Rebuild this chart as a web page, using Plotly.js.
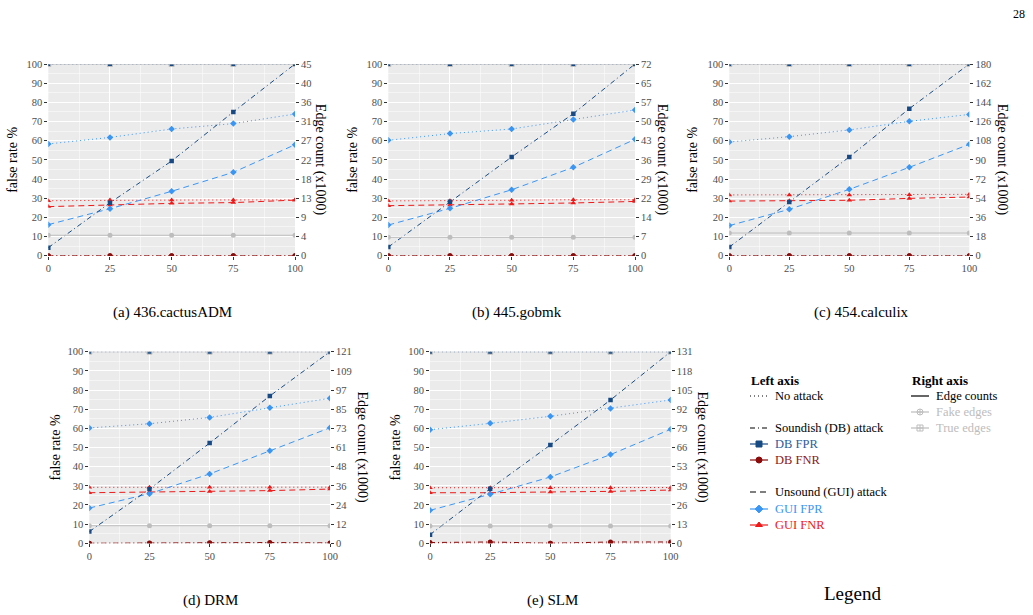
<!DOCTYPE html>
<html>
<head>
<meta charset="utf-8">
<script src="https://cdn.plot.ly/plotly-3.0.1.min.js"></script>
<style>
  html, body { margin: 0; padding: 0; background: #fff; }
  #chart { width: 1033px; height: 615px; }
</style>
</head>
<body>
<div id="chart"></div>
<script>
// Attack strength (% of edges tampered) on the x axis
const attackLevels = [0, 25, 50, 75, 100];

// One entry per benchmark panel
const captions = ['(a) 436.cactusADM', '(b) 445.gobmk', '(c) 454.calculix', '(d) DRM', '(e) SLM'];

// Right axis: maximum edge count (x1000) and its printed tick labels
const edgeAxisMax = [45, 72, 180, 121, 131];
const edgeTickLabels = [
  ['0', '4', '9', '13', '18', '22', '27', '31', '36', '40', '45'],
  ['0', '7', '14', '22', '29', '36', '43', '50', '57', '65', '72'],
  ['0', '18', '36', '54', '72', '90', '108', '126', '144', '162', '180'],
  ['0', '12', '24', '36', '48', '61', '73', '85', '97', '109', '121'],
  ['0', '13', '26', '39', '53', '66', '79', '92', '105', '118', '131']
];

// Left axis, no attack (false rate %)
const noAttackDbFpr = [
  [100, 100, 100, 100, 100], [100, 100, 100, 100, 100], [100, 100, 100, 100, 100],
  [100, 100, 100, 100, 100], [100, 100, 100, 100, 100]
];
const noAttackDbFnr = [
  [0, 0, 0, 0, 0], [0, 0, 0, 0, 0], [0, 0, 0, 0, 0], [0, 0, 0, 0, 0], [0, 0, 0, 0, 0]
];
const noAttackGuiFpr = [
  [58.3, 61.7, 66.1, 68.9, 73.9],
  [60.2, 63.7, 66.1, 71.0, 76.0],
  [59.3, 62.1, 65.6, 70.1, 73.7],
  [60.2, 62.4, 65.7, 70.8, 75.7],
  [59.3, 62.6, 66.3, 70.4, 74.8]
];
const noAttackGuiFnr = [
  [28.7, 29.0, 29.0, 29.1, 29.1],
  [28.6, 28.6, 28.9, 29.2, 29.2],
  [31.7, 31.7, 31.7, 31.8, 32.0],
  [29.2, 29.2, 29.2, 29.2, 29.3],
  [29.0, 29.0, 29.0, 29.0, 29.1]
];

// Left axis, Soundish (DB) attack
const dbAttackFpr = [
  [4.2, 27.6, 49.4, 75.0, 100],
  [4.5, 28.2, 51.5, 74.1, 100],
  [4.5, 28.0, 51.5, 76.7, 100],
  [6.1, 28.3, 52.3, 76.9, 100],
  [4.5, 28.5, 51.3, 74.8, 100]
];
const dbAttackFnr = [
  [0, 0, 0, 0, 0],
  [0, 0, 0, 0, 0],
  [0, 0, 0, 0, 0],
  [0, 0.2, 0.3, 0.4, 0.2],
  [0.4, 0.7, 0, 0.7, 0.7]
];

// Left axis, Unsound (GUI) attack
const guiAttackFpr = [
  [16.2, 24.5, 33.6, 43.5, 57.9],
  [16.0, 24.7, 34.4, 46.1, 60.7],
  [15.7, 24.2, 34.6, 46.1, 58.1],
  [18.4, 25.9, 36.2, 48.3, 60.3],
  [17.2, 25.6, 34.6, 46.3, 59.5]
];
const guiAttackFnr = [
  [25.6, 26.4, 27.3, 27.7, 29.0],
  [26.1, 26.4, 27.0, 27.5, 28.3],
  [28.5, 28.7, 28.9, 29.9, 30.6],
  [26.4, 26.8, 27.0, 27.5, 28.3],
  [26.4, 26.4, 26.8, 27.1, 27.8]
];

// Right axis: edge counts (x1000)
const fakeEdges = [
  [4.8, 4.8, 4.8, 4.8, 4.8],
  [6.9, 6.9, 6.9, 6.9, 6.9],
  [21.3, 21.3, 21.3, 21.3, 21.3],
  [11.1, 11.1, 11.1, 11.1, 11.1],
  [11.8, 11.8, 11.8, 11.8, 11.8]
];
const trueEdges = [
  [45, 45, 45, 45, 45],
  [72, 72, 72, 72, 72],
  [180, 180, 180, 180, 180],
  [121, 121, 121, 121, 121],
  [131, 131, 131, 131, 131]
];

// ---------------------------------------------------------------- styling
const W = 1033, H = 615;
const SERIF = 'Liberation Serif, Times New Roman, serif';
const C = {
  dbFpr: '#174A84', dbFnr: '#8B0A0A', guiFpr: '#3A96F5', guiFnr: '#F01818',
  edge: '#BDBDBD', tick: '#4D4D4D', panel: '#EBEBEB'
};
const DASH = { none: '1px,3px', db: '5px,3px,1px,3px', gui: '6px,4px', solid: 'solid' };

// Panel plotting areas in pixels (left, right, top, bottom)
const boxes = [
  { l: 48.3, r: 295.0, t: 64.0, b: 255.7 },
  { l: 388.3, r: 635.0, t: 64.0, b: 255.7 },
  { l: 729.3, r: 969.3, t: 64.0, b: 255.7 },
  { l: 89.3, r: 330.0, t: 351.7, b: 543.3 },
  { l: 430.0, r: 670.7, t: 351.7, b: 543.3 }
];
const captionPos = [[172, 312], [517, 312], [861, 312], [210, 600], [552, 600]];
const leftTitleX = [13, 353, 693, 55, 395];
const rightTitleX = [320, 662, 1002, 362, 702];

const px = x => x / W;
const py = y => 1 - y / H;

const traces = [];
const layout = {
  width: W, height: H,
  margin: { l: 0, r: 0, t: 0, b: 0, pad: 0 },
  paper_bgcolor: '#ffffff',
  plot_bgcolor: 'rgba(0,0,0,0)',
  showlegend: false,
  font: { family: SERIF, color: '#000' },
  shapes: [],
  annotations: []
};

function line(x, y, xa, ya, color, dash, symbol, size) {
  return {
    type: 'scatter', mode: 'lines+markers', x: x, y: y, xaxis: xa, yaxis: ya,
    line: { color: color, width: 1, dash: dash },
    marker: { color: color, symbol: symbol, size: size },
    hoverinfo: 'skip', cliponaxis: true
  };
}

boxes.forEach((b, i) => {
  const n = i + 1;
  const xName = n === 1 ? 'xaxis' : 'xaxis' + n;
  const yName = n === 1 ? 'yaxis' : 'yaxis' + n;
  const yrName = 'yaxis' + (n + 5);
  const xa = n === 1 ? 'x' : 'x' + n;
  const ya = n === 1 ? 'y' : 'y' + n;
  const yr = 'y' + (n + 5);

  const tickCommon = {
    ticks: 'outside', ticklen: 3, tickwidth: 1, tickcolor: '#333333',
    tickfont: { family: SERIF, size: 10.5, color: C.tick },
    zeroline: false, showline: false, fixedrange: true
  };

  layout[xName] = Object.assign({}, tickCommon, {
    domain: [px(b.l), px(b.r)], anchor: ya, range: [0, 100],
    tickmode: 'array', tickvals: attackLevels,
    showgrid: true, gridcolor: '#ffffff', gridwidth: 1,
    minor: { dtick: 12.5, tick0: 0, showgrid: true, gridcolor: '#ffffff', gridwidth: 0.5, ticks: '' }
  });
  layout[yName] = Object.assign({}, tickCommon, {
    domain: [py(b.b), py(b.t)], anchor: xa, range: [0, 100],
    tick0: 0, dtick: 10,
    showgrid: true, gridcolor: '#ffffff', gridwidth: 1,
    minor: { dtick: 5, tick0: 0, showgrid: true, gridcolor: '#ffffff', gridwidth: 0.5, ticks: '' }
  });
  const vmax = edgeAxisMax[i];
  layout[yrName] = Object.assign({}, tickCommon, {
    overlaying: ya, anchor: xa, side: 'right', range: [0, vmax],
    tickmode: 'array',
    tickvals: edgeTickLabels[i].map((_, k) => vmax * k / 10),
    ticktext: edgeTickLabels[i],
    showgrid: false
  });

  // grey panel background
  layout.shapes.push({
    type: 'rect', xref: xa + ' domain', yref: ya + ' domain', x0: 0, x1: 1, y0: 0, y1: 1,
    fillcolor: C.panel, line: { width: 0 }, layer: 'below'
  });

  // edge counts on the right axis
  traces.push(line(attackLevels, fakeEdges[i], xa, yr, C.edge, 'solid', 'circle', 5));
  traces.push(line(attackLevels, trueEdges[i], xa, yr, C.edge, 'solid', 'square-open', 5));
  // no attack
  traces.push(line(attackLevels, noAttackDbFnr[i], xa, ya, C.dbFnr, DASH.none, 'circle', 5));
  traces.push(line(attackLevels, noAttackGuiFnr[i], xa, ya, C.guiFnr, DASH.none, 'triangle-up', 5));
  traces.push(line(attackLevels, noAttackGuiFpr[i], xa, ya, C.guiFpr, DASH.none, 'diamond', 5));
  // GUI attack
  traces.push(line(attackLevels, guiAttackFnr[i], xa, ya, C.guiFnr, DASH.gui, 'triangle-up', 5));
  traces.push(line(attackLevels, guiAttackFpr[i], xa, ya, C.guiFpr, DASH.gui, 'diamond', 5));
  // DB attack
  traces.push(line(attackLevels, dbAttackFnr[i], xa, ya, C.dbFnr, DASH.db, 'circle', 5));
  traces.push(line(attackLevels, dbAttackFpr[i], xa, ya, C.dbFpr, DASH.db, 'square', 4.5));
  traces.push(line(attackLevels, noAttackDbFpr[i], xa, ya, C.dbFpr, DASH.none, 'square', 4.5));

  // axis titles
  const midY = (b.t + b.b) / 2;
  layout.annotations.push({
    text: 'false rate %', xref: 'paper', yref: 'paper', x: px(leftTitleX[i]), y: py(midY),
    textangle: -90, showarrow: false, xanchor: 'center', yanchor: 'middle',
    font: { family: SERIF, size: 14, color: '#000' }
  });
  layout.annotations.push({
    text: 'Edge count (x1000)', xref: 'paper', yref: 'paper', x: px(rightTitleX[i]), y: py(midY),
    textangle: 90, showarrow: false, xanchor: 'center', yanchor: 'middle',
    font: { family: SERIF, size: 14, color: '#000' }
  });
  // caption
  layout.annotations.push({
    text: captions[i], xref: 'paper', yref: 'paper',
    x: px(captionPos[i][0]), y: py(captionPos[i][1]),
    showarrow: false, xanchor: 'center', yanchor: 'middle',
    font: { family: SERIF, size: 15, color: '#000' }
  });
});

// ---------------------------------------------------------------- key
// A pixel-space overlay axis for the hand-built key
layout.xaxis6 = { domain: [0, 1], range: [0, W], anchor: 'y11', visible: false, fixedrange: true };
layout.yaxis11 = { domain: [0, 1], range: [H, 0], anchor: 'x6', visible: false, fixedrange: true };

const keyLeft = [
  { label: 'No attack', y: 396, color: '#000', dash: DASH.none, symbol: null, tcol: '#000' },
  { label: 'Soundish (DB) attack', y: 428, color: '#000', dash: DASH.db, symbol: null, tcol: '#000' },
  { label: 'DB FPR', y: 444, color: C.dbFpr, dash: 'solid', symbol: 'square', tcol: '#2E5E9A' },
  { label: 'DB FNR', y: 460, color: C.dbFnr, dash: 'solid', symbol: 'circle', tcol: '#8B1A1A' },
  { label: 'Unsound (GUI) attack', y: 492, color: '#000', dash: DASH.gui, symbol: null, tcol: '#000' },
  { label: 'GUI FPR', y: 509, color: C.guiFpr, dash: 'solid', symbol: 'diamond', tcol: C.guiFpr },
  { label: 'GUI FNR', y: 525, color: C.guiFnr, dash: 'solid', symbol: 'triangle-up', tcol: C.guiFnr }
];
const keyRight = [
  { label: 'Edge counts', y: 396, color: '#000', dash: 'solid', symbol: null, tcol: '#000' },
  { label: 'Fake edges', y: 412, color: '#BDBDBD', dash: 'solid', symbol: 'circle-cross-open', tcol: '#BDBDBD' },
  { label: 'True edges', y: 428, color: '#BDBDBD', dash: 'solid', symbol: 'square-cross-open', tcol: '#BDBDBD' }
];

function addKey(items, x0, x1, tx) {
  items.forEach(it => {
    traces.push({
      type: 'scatter', mode: 'lines', x: [x0, x1], y: [it.y, it.y], xaxis: 'x6', yaxis: 'y11',
      line: { color: it.color, width: 1.2, dash: it.dash }, hoverinfo: 'skip'
    });
    if (it.symbol) {
      traces.push({
        type: 'scatter', mode: 'markers', x: [(x0 + x1) / 2], y: [it.y], xaxis: 'x6', yaxis: 'y11',
        marker: { color: it.color, symbol: it.symbol, size: 6, line: { color: it.color, width: 1 } },
        hoverinfo: 'skip'
      });
    }
    layout.annotations.push({
      text: it.label, xref: 'paper', yref: 'paper', x: px(tx), y: py(it.y),
      xanchor: 'left', yanchor: 'middle', showarrow: false,
      font: { family: SERIF, size: 12.5, color: it.tcol }
    });
  });
}
addKey(keyLeft, 750, 768, 773);
addKey(keyRight, 911, 929, 934);

layout.annotations.push(
  { text: '<b>Left axis</b>', xref: 'paper', yref: 'paper', x: px(749), y: py(380),
    xanchor: 'left', yanchor: 'middle', showarrow: false, font: { family: SERIF, size: 13, color: '#000' } },
  { text: '<b>Right axis</b>', xref: 'paper', yref: 'paper', x: px(910), y: py(380),
    xanchor: 'left', yanchor: 'middle', showarrow: false, font: { family: SERIF, size: 13, color: '#000' } },
  { text: 'Legend', xref: 'paper', yref: 'paper', x: px(852), y: py(593),
    xanchor: 'center', yanchor: 'middle', showarrow: false, font: { family: SERIF, size: 19, color: '#000' } },
  { text: '28', xref: 'paper', yref: 'paper', x: px(1019), y: py(14),
    xanchor: 'center', yanchor: 'middle', showarrow: false, font: { family: SERIF, size: 12, color: '#000' } }
);

Plotly.newPlot('chart', traces, layout, { staticPlot: true, displayModeBar: false });
</script>
</body>
</html>
